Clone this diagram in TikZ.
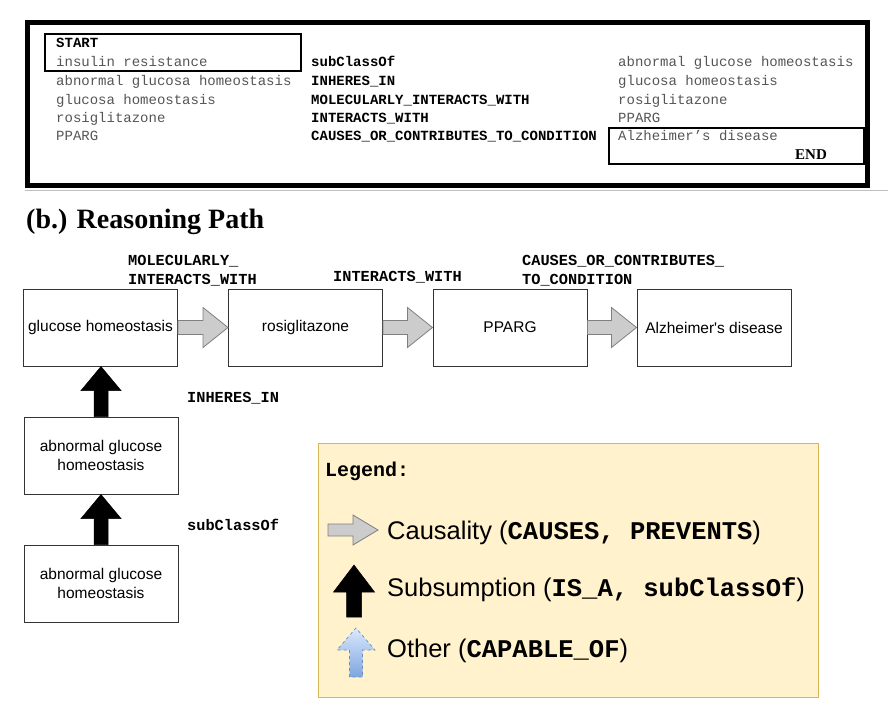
\documentclass[tikz,border=0pt]{standalone}
\usepackage{fontspec}
\usetikzlibrary{calc}
\newfontfamily\fsans{Liberation Sans}
\newfontfamily\fmono{Liberation Mono}
\newfontfamily\fserif{Liberation Serif}
\definecolor{entgray}{HTML}{555555}
\definecolor{boxline}{HTML}{333333}
\definecolor{arrgray}{HTML}{CCCCCC}
\definecolor{arrgrayline}{HTML}{808080}
\definecolor{legfill}{HTML}{FFF2CC}
\definecolor{legline}{HTML}{D6B656}
\definecolor{bluetop}{HTML}{DAE8FC}
\definecolor{bluebot}{HTML}{7EA6E0}
\definecolor{blueline}{HTML}{6C8EBF}
% horizontal block arrow: style, from, to, shaft half, head half, head length
\newcommand{\hblock}[6]{%
  \path[#1] let \p1=(#2), \p2=(#3) in
    (\x1,\y1+#4pt) -- (\x2-#6pt,\y1+#4pt) -- (\x2-#6pt,\y1+#5pt) -- (\x2,\y1)
    -- (\x2-#6pt,\y1-#5pt) -- (\x2-#6pt,\y1-#4pt) -- (\x1,\y1-#4pt) -- cycle;}
% vertical (upward) block arrow: style, from (bottom), to (tip), shaft half, head half, head length
\newcommand{\vblock}[6]{%
  \path[#1] let \p1=(#2), \p2=(#3) in
    (\x1-#4pt,\y1) -- (\x1-#4pt,\y2-#6pt) -- (\x1-#5pt,\y2-#6pt) -- (\x1,\y2)
    -- (\x1+#5pt,\y2-#6pt) -- (\x1+#4pt,\y2-#6pt) -- (\x1+#4pt,\y1) -- cycle;}
\tikzset{
  ent/.style={anchor=base west, inner sep=0pt, text=entgray, font={\fmono\fontsize{14}{16}\selectfont}},
  rel/.style={anchor=base west, inner sep=0pt, font={\fmono\bfseries\fontsize{14}{16}\selectfont}},
  concept/.style={draw=boxline, line width=1pt, minimum width=154pt, minimum height=77pt,
    inner sep=2pt, align=center, font={\fsans\fontsize{15.5}{19}\selectfont}},
  elbl/.style={anchor=base west, inner sep=0pt, font={\fmono\bfseries\fontsize{15.3}{19}\selectfont}},
  causal/.style={fill=arrgray, draw=arrgrayline, line width=0.8pt},
  subsum/.style={fill=black, draw=black, line width=0.5pt},
  otherarr/.style={top color=bluetop, bottom color=bluebot, draw=blueline, dashed, line width=0.7pt},
  legtxt/.style={anchor=base west, inner sep=0pt, font={\fsans\fontsize{25.5}{28}\selectfont}},
}
\newcommand{\lm}[1]{{\fmono\bfseries #1}}
\begin{document}
\begin{tikzpicture}[x=1pt,y=-1pt]
\useasboundingbox (0,0) rectangle (888,712);
% ---------- (a) path listing ----------
\draw[line width=5pt] (27.5,22.5) rectangle (867.5,185.5);
\draw[line width=1.2pt] (45,34) rectangle (301,71);
\draw[line width=1.2pt] (609,128) rectangle (864,164);
\node[rel] (start) at (56,47.5) {START};
\node[ent] (e1) at (56,66.5) {insulin resistance};
\node[ent] (e2) at (56,85.5) {abnormal glucosa homeostasis};
\node[ent] (e3) at (56,104.5) {glucosa homeostasis};
\node[ent] (e4) at (56,122.5) {rosiglitazone};
\node[ent] (e5) at (56,140.5) {PPARG};
\node[rel] (r1) at (311,66.5) {subClassOf};
\node[rel] (r2) at (311,85.5) {INHERES\_IN};
\node[rel] (r3) at (311,104.5) {MOLECULARLY\_INTERACTS\_WITH};
\node[rel] (r4) at (311,122.5) {INTERACTS\_WITH};
\node[rel] (r5) at (311,140.5) {CAUSES\_OR\_CONTRIBUTES\_TO\_CONDITION};
\node[ent] (t1) at (618,66.5) {abnormal glucose homeostasis};
\node[ent] (t2) at (618,85.5) {glucosa homeostasis};
\node[ent] (t3) at (618,104.5) {rosiglitazone};
\node[ent] (t4) at (618,122.5) {PPARG};
\node[ent] (t5) at (618,140.5) {Alzheimer’s disease};
\node[anchor=base west, inner sep=0pt, font={\fserif\bfseries\fontsize{15}{17}\selectfont}] (endlbl) at (795,159.5) {END};
\draw[color=black!25, line width=1pt] (25,190.5) -- (888,190.5);
% ---------- (b) heading ----------
\node[anchor=base west, inner sep=0pt, font={\fserif\bfseries\fontsize{28}{32}\selectfont}] (head) at (26,228) {(b.) Reasoning Path};
% ---------- boxes ----------
\node[concept] (gh) at (100.5,327.5) {glucose homeostasis};
\node[concept] (ro) at (305.5,327.5) {rosiglitazone};
\node[concept] (pp) at (510,327.5) {PPARG};
\node[concept] (ad) at (714,327.5) {Alzheimer\textquotesingle s disease};
\node[concept] (agh1) at (101,455.5) {abnormal glucose\\homeostasis};
\node[concept] (agh2) at (101,583.5) {abnormal glucose\\homeostasis};
% arrows
\hblock{causal}{gh.east}{ro.west}{7}{20}{25}
\hblock{causal}{ro.east}{pp.west}{7}{20}{25}
\hblock{causal}{pp.east}{ad.west}{7}{20}{25}
\vblock{subsum}{agh1.north}{gh.south}{7}{20}{24}
\vblock{subsum}{agh2.north}{agh1.south}{7}{20}{24}
% edge labels
\node[elbl] (l1a) at (128,265) {MOLECULARLY\_};
\node[elbl] (l1b) at (128,284) {INTERACTS\_WITH};
\node[elbl] (l2) at (333,281) {INTERACTS\_WITH};
\node[elbl] (l3a) at (522,265) {CAUSES\_OR\_CONTRIBUTES\_};
\node[elbl] (l3b) at (522,284) {TO\_CONDITION};
\node[elbl] (l4) at (187,402) {INHERES\_IN};
\node[elbl] (l5) at (187,530) {subClassOf};
% ---------- legend ----------
\draw[fill=legfill, draw=legline, line width=1pt] (318,443) rectangle (818,697);
\node[anchor=base west, inner sep=0pt, font={\fmono\bfseries\fontsize{20}{24}\selectfont}] (legt) at (325,476.5) {Legend:};
\coordinate (c1a) at (328,530);
\coordinate (c1b) at (378,530);
\hblock{causal}{c1a}{c1b}{6}{15}{25}
\node[legtxt] (lg1) at (387,539) {Causality (\lm{CAUSES, PREVENTS})};
\coordinate (c2a) at (354,617);
\coordinate (c2b) at (354,565);
\vblock{subsum}{c2a}{c2b}{7.5}{20.5}{27}
\node[legtxt] (lg2) at (387,596) {Subsumption (\lm{IS\_A, subClassOf})};
\coordinate (c3a) at (356,677);
\coordinate (c3b) at (356,628);
\vblock{otherarr}{c3a}{c3b}{6.5}{19}{22}
\node[legtxt] (lg3) at (387,657) {Other (\lm{CAPABLE\_OF})};
\end{tikzpicture}
\end{document}
